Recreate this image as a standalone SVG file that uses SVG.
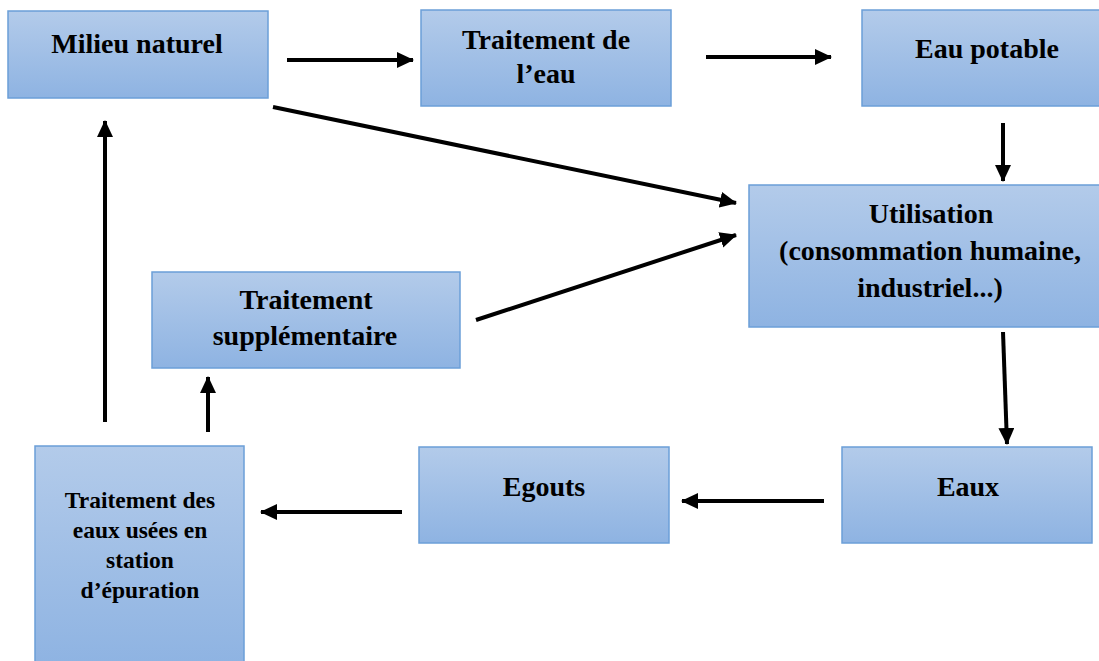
<svg xmlns="http://www.w3.org/2000/svg" width="1099" height="661" viewBox="0 0 1099 661">
<defs>
<linearGradient id="g" x1="0" y1="0" x2="0" y2="1">
<stop offset="0" stop-color="#b3cbea"/>
<stop offset="1" stop-color="#8eb3e2"/>
</linearGradient>
<marker id="ah" markerUnits="userSpaceOnUse" markerWidth="17" markerHeight="17" refX="16" refY="8" orient="auto">
<path d="M0,0 L17,8 L0,16 z" fill="#000"/>
</marker>
<style>
.box{fill:url(#g);stroke:#6b9fd8;stroke-width:1.5}
.t{font-family:"Liberation Serif","Times New Roman",serif;font-weight:bold;font-size:28px;fill:#000;text-anchor:middle}
.s{font-size:23.5px}
.c{stroke:#000;stroke-width:4;fill:none;marker-end:url(#ah)}
</style>
</defs>
<rect width="1099" height="661" fill="#fff"/>
<g id="connectors">
<line class="c" x1="287" y1="60" x2="413" y2="60"/>
<line class="c" x1="706" y1="57" x2="831" y2="57"/>
<line class="c" x1="1003" y1="123" x2="1003" y2="181"/>
<line class="c" x1="273" y1="107" x2="736" y2="203"/>
<line class="c" x1="476" y1="320" x2="736" y2="235"/>
<line class="c" x1="1003" y1="332" x2="1007" y2="444"/>
<line class="c" x1="824" y1="501" x2="682" y2="501"/>
<line class="c" x1="402" y1="512" x2="261" y2="512"/>
<line class="c" x1="208" y1="432" x2="208" y2="377"/>
<line class="c" x1="105" y1="422" x2="105" y2="121"/>
</g>
<g id="milieu">
<rect class="box" x="8" y="11" width="260" height="87"/>
<text class="t" x="137" y="53">Milieu naturel</text>
</g>
<g id="traitement-eau">
<rect class="box" x="421" y="10" width="250" height="96"/>
<text class="t" x="546" y="49">Traitement de</text>
<text class="t" x="546" y="83">l’eau</text>
</g>
<g id="eau-potable">
<rect class="box" x="862" y="10" width="240" height="96"/>
<text class="t" x="987" y="58">Eau potable</text>
</g>
<g id="utilisation">
<rect class="box" x="749" y="185" width="352" height="142"/>
<text class="t" x="931" y="223">Utilisation</text>
<text class="t" x="930" y="260">(consommation humaine,</text>
<text class="t" x="930" y="297">industriel...)</text>
</g>
<g id="supplementaire">
<rect class="box" x="152" y="272" width="308" height="96"/>
<text class="t" x="306" y="309">Traitement</text>
<text class="t" x="305" y="345">supplémentaire</text>
</g>
<g id="station">
<rect class="box" x="35" y="446" width="209" height="220"/>
<text class="t s" x="140" y="508">Traitement des</text>
<text class="t s" x="140" y="538">eaux usées en</text>
<text class="t s" x="140" y="568">station</text>
<text class="t s" x="140" y="598">d’épuration</text>
</g>
<g id="egouts">
<rect class="box" x="419" y="447" width="250" height="96"/>
<text class="t" x="544" y="496">Egouts</text>
</g>
<g id="eaux">
<rect class="box" x="842" y="447" width="250" height="96"/>
<text class="t" x="968" y="496">Eaux</text>
</g>
</svg>
